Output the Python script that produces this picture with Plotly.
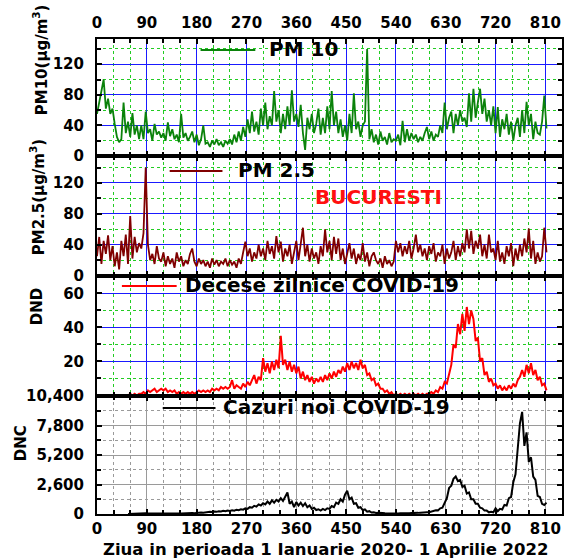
import plotly.graph_objects as go

# ---------------- data ----------------
days = list(range(0, 813, 4))  # day index, 1 Jan 2020 = 0

pm10 = [
    55, 70, 88, 100, 62, 75, 55, 62, 42, 25,
    18, 22, 70, 30, 45, 25, 56, 28, 40, 22,
    40, 22, 58, 30, 35, 20, 42, 28, 32, 24,
    30, 20, 44, 26, 35, 22, 28, 18, 55, 24,
    30, 20, 25, 32, 18, 28, 14, 22, 40, 16,
    18, 12, 20, 15, 22, 14, 18, 12, 20, 16,
    22, 15, 28, 18, 32, 20, 38, 25, 48, 30,
    58, 32, 45, 28, 62, 40, 70, 35, 52, 40,
    85, 45, 60, 30, 55, 35, 65, 40, 86, 45,
    55, 38, 67, 30, 8, 50, 35, 55, 30, 42,
    62, 28, 50, 30, 65, 35, 85, 40, 58, 30,
    48, 25, 40, 20, 55, 30, 82, 35, 45, 25,
    40, 45, 140, 22, 35, 18, 28, 15, 32, 20,
    25, 15, 30, 18, 22, 20, 28, 14, 46, 18,
    35, 20, 30, 22, 28, 18, 25, 20, 30, 38,
    22, 32, 20, 28, 25, 40, 30, 70, 35, 50,
    58, 30, 55, 40, 60, 45, 50, 38, 82, 45,
    88, 50, 70, 88, 55, 75, 45, 60, 40, 65,
    30, 64, 25, 48, 35, 55, 28, 45, 20, 40,
    50, 25, 60, 30, 71, 40, 55, 22, 45, 30,
    28, 45, 79, 36,
]

pm25 = [
    25, 50, 15, 45, 28, 52, 20, 38, 12, 30,
    8, 45, 25, 53, 15, 77, 22, 50, 30, 42,
    35, 55, 140, 40, 20, 28, 15, 38, 22, 18,
    30, 12, 25, 15, 22, 10, 30, 18, 25, 12,
    20, 15, 28, 35, 18, 12, 22, 15, 20, 12,
    18, 10, 22, 14, 20, 12, 18, 15, 22, 12,
    20, 14, 18, 10, 22, 15, 30, 44, 25, 35,
    18, 30, 22, 40, 25, 35, 20, 45, 28, 38,
    22, 51, 30, 44, 18, 35, 25, 40, 15, 30,
    45, 20, 38, 62, 25, 40, 18, 35, 22, 30,
    15, 38, 25, 60, 30, 45, 20, 50, 28, 48,
    20, 35, 15, 30, 42, 22, 35, 15, 28, 20,
    42, 18, 30, 12, 25, 30, 20, 15, 22, 10,
    25, 15, 20, 12, 18, 45, 30, 42, 25, 38,
    28, 45, 22, 35, 53, 30, 40, 25, 35, 20,
    38, 28, 42, 18, 30, 25, 40, 15, 35, 22,
    30, 45, 20, 38, 25, 42, 30, 60, 35, 58,
    28, 45, 35, 53, 25, 40, 22, 53, 30, 35,
    20, 45, 18, 30, 15, 38, 25, 42, 12, 35,
    20, 40, 25, 48, 30, 61, 22, 45, 15, 30,
    18, 25, 62, 30,
]

dnd = [
    None, None, None, None, None, None, None, None, None, None,
    None, None, None, None, 0, 1, 0, 1, 0, 1,
    1, 2, 1, 3, 2, 3, 4, 2, 3, 4,
    3, 4, 2, 3, 2, 3, 1, 2, 1, 2,
    1, 2, 1, 2, 1, 2, 3, 2, 3, 2,
    3, 2, 4, 3, 4, 3, 5, 4, 5, 4,
    5, 9, 4, 6, 5, 4, 7, 5, 8, 6,
    9, 12, 7, 11, 9, 22, 14, 19, 13, 20,
    15, 21, 16, 35, 18, 21, 15, 20, 14, 18,
    13, 17, 10, 14, 9, 12, 8, 11, 7, 10,
    8, 11, 8, 12, 9, 13, 10, 14, 11, 15,
    13, 17, 14, 19, 15, 20, 16, 19, 15, 21,
    16, 18, 12, 13, 9, 10, 6, 7, 4, 4,
    2, 3, 1, 2, 0, 1, 0, 1, 0, 1,
    0, 1, 0, 1, 0, 1, 0, 1, 0, 1,
    1, 2, 1, 3, 2, 5, 4, 8, 7, 13,
    18, 30, 28, 42, 36, 48, 38, 52, 42, 50,
    45, 32, 34, 20, 22, 12, 14, 8, 10, 6,
    7, 4, 6, 3, 5, 3, 6, 4, 7, 5,
    9, 11, 15, 11, 18, 13, 19, 12, 15, 9,
    11, 6, 7, 3,
]

dnc = [
    None, None, None, None, None, None, None, None, None, None,
    None, None, None, None, 10, 20, 40, 60, 50, 70,
    80, 60, 70, 50, 60, 40, 50, 60, 40, 50,
    40, 50, 30, 40, 50, 40, 60, 50, 40, 60,
    50, 70, 60, 90, 70, 110, 100, 140, 120, 160,
    150, 190, 170, 220, 190, 250, 220, 280, 240, 300,
    270, 330, 290, 380, 340, 420, 380, 500, 450, 600,
    550, 720, 650, 850, 750, 950, 850, 1100, 900, 1200,
    1000, 1250, 1100, 1400, 1150, 1600, 1900, 900, 1100, 600,
    1050, 750, 1000, 700, 950, 600, 750, 450, 550, 350,
    420, 300, 450, 350, 500, 450, 700, 600, 1000, 900,
    1300, 1100, 1700, 2050, 1300, 1450, 900, 950, 550, 600,
    350, 400, 200, 250, 130, 150, 90, 110, 70, 90,
    60, 50, 50, 40, 50, 40, 50, 60, 50, 60,
    60, 70, 80, 70, 90, 100, 120, 110, 140, 150,
    160, 220, 230, 330, 320, 500, 550, 1000, 1400, 2300,
    2500, 3100, 3300, 2900, 3000, 2400, 2500, 1800, 1900, 1300,
    1300, 900, 900, 550, 500, 300, 300, 150, 200, 150,
    500, 250, 450, 400, 800, 750, 1400, 1500, 2800, 3500,
    5700, 8000, 9000, 6000, 7200, 4600, 5000, 3300, 3000, 1600,
    1500, 900, 800, 1000,
]

pm_ticks = [0, 40, 80, 120]
dnd_ticks = [0, 20, 40, 60]
dnd_ticktext = [" ", "20", "40", "60"]
dnc_ticks = [0, 2600, 5200, 7800, 10400]
x_ticks_step = 90

# ---------------- geometry helpers ----------------
W, H = 569, 558
L, R, T, B = 97, 5, 39, 44
PW, PH = W - L - R, H - T - B


def fx(px):
    return (px - L) / PW


def fy(py):
    return (H - B - py) / PH


b1, b2, b3 = fy(156), fy(275.5), fy(395.5)

FONT = "DejaVu Sans"
tickfont = dict(family=FONT, size=15, color="black", weight="bold")
BLUE = "#1a1aff"
GREEN = "#22cc22"
GRAY = "#9a9a9a"

fig = go.Figure()
fig.add_trace(go.Scatter(x=days, y=pm10, xaxis="x", yaxis="y", mode="lines",
                         line=dict(color="#0b820b", width=1.8), showlegend=False))
fig.add_trace(go.Scatter(x=days, y=pm25, xaxis="x2", yaxis="y2", mode="lines",
                         line=dict(color="#800000", width=1.8), showlegend=False))
fig.add_trace(go.Scatter(x=days, y=dnd, xaxis="x3", yaxis="y3", mode="lines",
                         line=dict(color="#ff0000", width=2), showlegend=False))
fig.add_trace(go.Scatter(x=days, y=dnc, xaxis="x4", yaxis="y4", mode="lines",
                         line=dict(color="black", width=2), showlegend=False))


def xax(anchor, labels, side, gmaj, gmin, gdash, standoff):
    return dict(range=[0, 840], domain=[0, 1], anchor=anchor, side=side,
                tickmode="linear", tick0=0, dtick=x_ticks_step,
                ticks="inside", ticklen=5, tickwidth=2, tickcolor="black",
                showline=True, linewidth=2, linecolor="black", mirror="ticks",
                showgrid=True, gridcolor=gmaj, gridwidth=1, zeroline=False,
                minor=dict(tick0=0, dtick=30, ticks="inside", ticklen=4, tickwidth=1.5,
                           tickcolor="black", showgrid=True, gridcolor=gmin,
                           griddash=gdash, gridwidth=1),
                showticklabels=labels, tickfont=tickfont, ticklabelstandoff=standoff)


def yax(anchor, dom, rng, tickvals, ticktext, minor_dt, gmaj, gmin, fmt=None):
    d = dict(range=rng, domain=dom, anchor=anchor, tickmode="array", tickvals=tickvals,
             ticks="inside", ticklen=5, tickwidth=2, tickcolor="black",
             showline=True, linewidth=2, linecolor="black", mirror="ticks",
             showgrid=True, gridcolor=gmaj, gridwidth=1, zeroline=False,
             minor=dict(tick0=0, dtick=minor_dt, ticks="inside", ticklen=4, tickwidth=1.5,
                        tickcolor="black", showgrid=True, gridcolor=gmin,
                        griddash="dot", gridwidth=1),
             tickfont=tickfont, ticklabelstandoff=8)
    if ticktext is not None:
        d["ticktext"] = ticktext
    if fmt:
        d["tickformat"] = fmt
    return d


fig.update_layout(
    width=W, height=H, margin=dict(l=L, r=R, t=T, b=B),
    paper_bgcolor="white", plot_bgcolor="white",
    xaxis=xax("y", True, "top", BLUE, GREEN, "dot", 3),
    xaxis2=xax("y2", False, "bottom", BLUE, GREEN, "dot", 0),
    xaxis3=xax("y3", False, "bottom", BLUE, GREEN, "dot", 0),
    xaxis4=xax("y4", True, "bottom", GRAY, GRAY, "dot", 0),
    yaxis=yax("x", [b1, 1], [0, 153], pm_ticks, None, 20, BLUE, GREEN),
    yaxis2=yax("x2", [b2, b1], [0, 155], pm_ticks, None, 20, BLUE, GREEN),
    yaxis3=yax("x3", [b3, b2], [0, 70.5], dnd_ticks, dnd_ticktext, 10, BLUE, GREEN),
    yaxis4=yax("x4", [0, b3], [0, 10450], dnc_ticks, None, 1300, GRAY, GRAY, ",d"),
)

# legend-like samples and labels
legend_items = [
    ("PM 10", "#0b820b", 201, 256, 50, 268),
    ("PM 2.5", "#800000", 170, 223, 171, 237),
    ("Decese zilnice COVID-19", "#ff0000", 122, 177, 286, 183),
    ("Cazuri noi COVID-19", "black", 163, 216, 408, 222),
]
shapes = []
annotations = []
for text, col, x0, x1, yy, tx in legend_items:
    shapes.append(dict(type="line", xref="paper", yref="paper", x0=fx(x0), x1=fx(x1),
                       y0=fy(yy), y1=fy(yy), line=dict(color=col, width=2)))
    annotations.append(dict(text=text, xref="paper", yref="paper", x=fx(tx), y=fy(yy - 1),
                            xanchor="left", yanchor="middle", showarrow=False,
                            font=dict(family=FONT, size=20, color="black", weight="bold")))

annotations.append(dict(text="BUCURESTI", xref="paper", yref="paper", x=fx(380), y=fy(197),
                        xanchor="center", yanchor="middle", showarrow=False,
                        font=dict(family=FONT, size=20, color="#ff1010", weight="bold")))

ytitles = [
    ("PM10(μg/m<sup>3</sup>)", 40, 60),
    ("PM2.5(μg/m<sup>3</sup>)", 37, 197),
    ("DND", 37, 307),
    ("DNC", 21, 443),
]
for text, xx, yy in ytitles:
    annotations.append(dict(text=text, xref="paper", yref="paper", x=fx(xx), y=fy(yy),
                            xanchor="center", yanchor="middle", textangle=-90, showarrow=False,
                            font=dict(family=FONT, size=15, color="black", weight="bold")))

annotations.append(dict(text="Ziua in perioada 1 Ianuarie 2020- 1 Aprilie 2022",
                        xref="paper", yref="paper", x=fx(326), y=fy(549),
                        xanchor="center", yanchor="middle", showarrow=False,
                        font=dict(family=FONT, size=16.5, color="black", weight="bold")))

fig.update_layout(shapes=shapes, annotations=annotations)
fig.write_html("out.html", config={"displayModeBar": False},
               post_script="document.body.style.margin='0px';document.body.style.overflow='hidden';")
